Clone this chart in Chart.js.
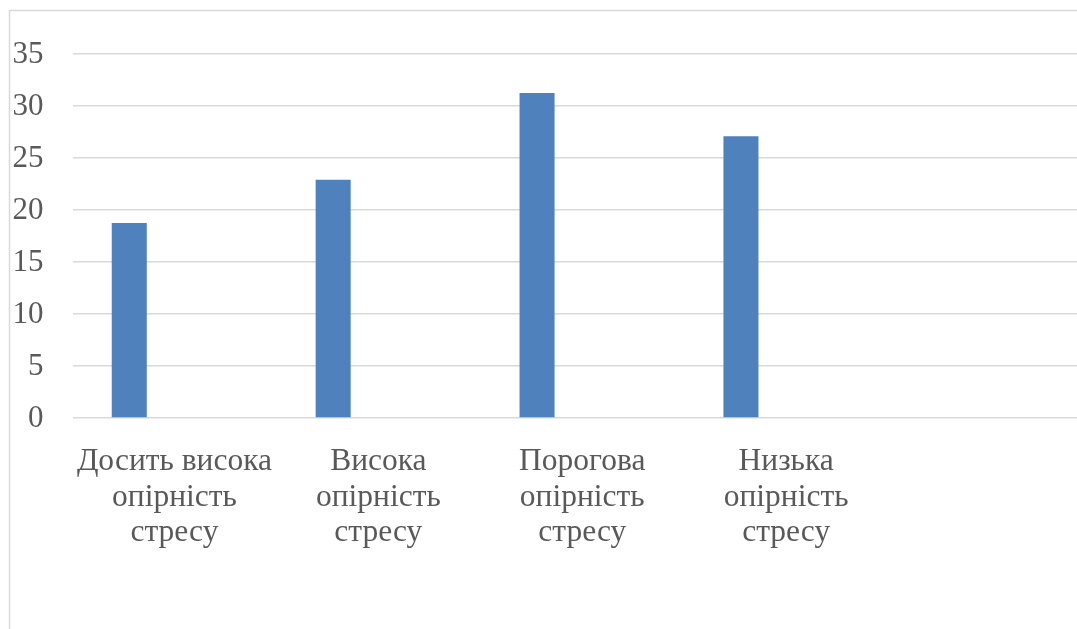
<!DOCTYPE html>
<html>
<head>
<meta charset="utf-8">
<script src="https://cdn.jsdelivr.net/npm/chart.js@4"></script>
<style>
  html, body { margin: 0; padding: 0; background: #ffffff; overflow: hidden; }
  #wrap { position: absolute; left: 0; top: 0; width: 1100px; height: 629px; }
</style>
</head>
<body>
<div id="wrap"><canvas id="c" width="1100" height="629"></canvas></div>
<script>
// Categories (the fifth slot is left blank on purpose)
const categories = [
  ['Досить висока', 'опірність', 'стресу'],
  ['Висока', 'опірність', 'стресу'],
  ['Порогова', 'опірність', 'стресу'],
  ['Низька', 'опірність', 'стресу'],
  ''
];
// Share of respondents per level, %
const seriesMain = [18.75, 22.92, 31.25, 27.08, null];
// Empty companion series that keep the grouped slots
const seriesEmpty2 = [null, null, null, null, null];
const seriesEmpty3 = [null, null, null, null, null];
// Value axis ticks
const yTicks = { min: 0, max: 35, step: 5 };

const textColor = '#595959';
const gridColor = '#d9d9d9';
const barColor = '#4f81bd';
const fontFamily = "'Liberation Serif', 'Times New Roman', serif";

// Outer frame of the chart object
const framePlugin = {
  id: 'frame',
  beforeDraw(chart) {
    const ctx = chart.ctx;
    ctx.save();
    ctx.strokeStyle = gridColor;
    ctx.lineWidth = 1.5;
    ctx.beginPath();
    ctx.moveTo(9.5, chart.height + 5);
    ctx.lineTo(9.5, 10.5);
    ctx.lineTo(chart.width + 5, 10.5);
    ctx.stroke();
    ctx.restore();
  }
};

new Chart(document.getElementById('c'), {
  type: 'bar',
  data: {
    labels: categories,
    datasets: [
      { label: 'Ряд 1', data: seriesMain, backgroundColor: barColor },
      { label: 'Ряд 2', data: seriesEmpty2, backgroundColor: barColor },
      { label: 'Ряд 3', data: seriesEmpty3, backgroundColor: barColor }
    ]
  },
  options: {
    responsive: false,
    animation: false,
    devicePixelRatio: 1,
    categoryPercentage: 0.665,
    barPercentage: 0.775,
    layout: { padding: { left: 0, top: 54, right: 8, bottom: 0 } },
    plugins: {
      legend: { display: false },
      tooltip: { enabled: false }
    },
    scales: {
      x: {
        grid: { display: false, drawTicks: false },
        border: { display: false },
        ticks: {
          color: textColor,
          font: { family: fontFamily, size: 31.5, lineHeight: 1.13 },
          padding: 26,
          maxRotation: 0,
          minRotation: 0,
          autoSkip: false
        },
        afterFit(scale) { scale.height = 211; }
      },
      y: {
        min: yTicks.min,
        max: yTicks.max,
        grid: { color: gridColor, lineWidth: 1.5, drawTicks: false },
        border: { display: false },
        ticks: {
          stepSize: yTicks.step,
          color: textColor,
          font: { family: fontFamily, size: 31 },
          padding: 29,
          labelOffset: 1
        },
        afterFit(scale) { scale.width = 72.5; }
      }
    }
  },
  plugins: [framePlugin]
});
</script>
</body>
</html>
